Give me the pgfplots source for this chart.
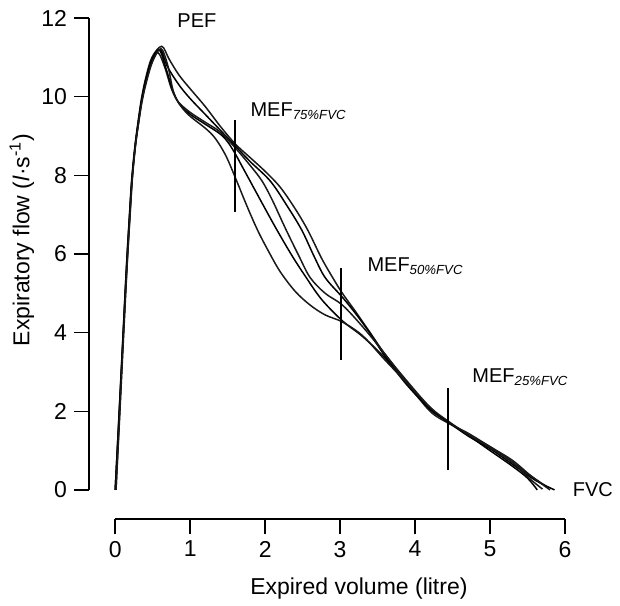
\documentclass[border=0pt]{standalone}
\usepackage{pgfplots}
\pgfplotsset{compat=1.18}
\usepackage{fontspec}
\setmainfont{Liberation Sans}

\newcommand\tickfont{\fontsize{11.5}{13}\selectfont}
\newcommand\labfont{\fontsize{10}{12}\selectfont}
\newcommand\subfont{\fontsize{6.6}{7}\selectfont\itshape}

\begin{document}
\begin{tikzpicture}
    \useasboundingbox (-44.5pt,-43pt) rectangle (265.5pt,259.5pt);
    \begin{axis}[
            scale only axis,
            width=238pt,
            height=250.5pt,
            xmin=-0.35, xmax=6,
            ymin=-0.74, ymax=12,
            axis lines=left,
            axis line style={draw=none},
            xtick={0,1,...,6},
            ytick={0,2,...,12},
            tick align=outside,
            major tick length=7.5pt,
            tick style={line width=0.75pt, black},
            tick label style={font=\tickfont},
            /pgf/number format/assume math mode=true,
            xlabel={Expired volume (litre)},
            ylabel={Expiratory flow (\textit{l}·s\textsuperscript{-1})},
            label style={font=\tickfont},
            xlabel style={at={(axis description cs:0.567,-0.138)}, anchor=center},
            ylabel style={at={(axis description cs:-0.141,0.557)}, anchor=center},
            clip=false,
            cycle list={{black!90, mark=none}},
            every axis plot post/.append style={mark=none, smooth, tension=0.55, line width=0.75pt},
        ]
        % axis lines only over the data range
        \draw[line width=0.75pt] (axis cs:-0.35,0) -- (axis cs:-0.35,12);
        \draw[line width=0.75pt] (axis cs:0,-0.74) -- (axis cs:6,-0.74);

        % curve A, upper bulge
        \addplot coordinates {(0,0) (0.05,1.9) (0.1,3.8) (0.15,5.7) (0.19,7.0) (0.22,7.9) (0.26,8.7)
            (0.3,9.3) (0.35,9.95) (0.41,10.5) (0.49,11.0) (0.62,11.28) (0.72,10.95) (0.85,10.55)
            (1.0,10.2) (1.2,9.75) (1.4,9.25) (1.6,8.8) (1.8,8.45) (2.0,8.1) (2.2,7.7) (2.4,7.15)
            (2.57,6.6) (2.75,5.9) (2.9,5.4) (3.03,5.0) (3.2,4.55) (3.4,4.0) (3.6,3.45) (3.9,2.75)
            (4.2,2.1) (4.44,1.72) (4.7,1.4) (5.0,1.1) (5.3,0.7) (5.55,0.35) (5.78,0.05)};
        % curve B
        \addplot coordinates {(0.01,0) (0.06,2.0) (0.11,4.0) (0.16,5.8) (0.2,7.1) (0.23,8.0) (0.27,8.8)
            (0.31,9.35) (0.36,9.95) (0.42,10.45) (0.5,10.95) (0.6,11.2) (0.7,10.75) (0.85,10.3)
            (1.0,9.95) (1.2,9.55) (1.4,9.15) (1.6,8.75) (1.8,8.35) (2.07,7.85) (2.3,7.2) (2.49,6.6)
            (2.65,5.95) (2.8,5.4) (3.03,4.9) (3.2,4.5) (3.4,3.98) (3.6,3.4) (3.9,2.7) (4.2,2.05)
            (4.44,1.74) (4.7,1.38) (5.0,1.05) (5.3,0.65) (5.6,0.25) (5.86,0)};
        % curve C
        \addplot coordinates {(0,0) (0.05,1.8) (0.1,3.7) (0.15,5.6) (0.19,6.9) (0.22,7.8) (0.26,8.6)
            (0.3,9.2) (0.35,9.85) (0.41,10.4) (0.48,10.85) (0.57,11.12) (0.66,10.75) (0.75,10.2)
            (0.84,9.87) (1.0,9.6) (1.2,9.35) (1.4,9.1) (1.6,8.7) (1.8,8.25) (1.96,7.85) (2.1,7.35)
            (2.27,6.65) (2.45,5.95) (2.6,5.4) (2.8,5.0) (3.03,4.7) (3.3,4.15) (3.6,3.45) (3.9,2.7)
            (4.2,2.0) (4.44,1.7) (4.7,1.45) (5.0,1.1) (5.3,0.75) (5.55,0.35) (5.8,0)};
        % curve D
        \addplot coordinates {(0,0) (0.05,1.85) (0.1,3.75) (0.15,5.65) (0.19,6.95) (0.22,7.85) (0.26,8.65)
            (0.3,9.25) (0.35,9.9) (0.41,10.45) (0.49,10.95) (0.59,11.18) (0.68,10.7) (0.77,10.15)
            (0.86,9.8) (1.0,9.55) (1.2,9.3) (1.4,9.05) (1.5,8.85) (1.6,8.55) (1.7,8.2) (1.8,7.85)
            (2.0,7.15) (2.16,6.6) (2.36,5.95) (2.53,5.45) (2.75,4.85) (3.03,4.3) (3.3,3.9)
            (3.6,3.35) (3.9,2.65) (4.2,2.05) (4.44,1.73) (4.7,1.4) (5.0,1.0) (5.3,0.6) (5.5,0.3) (5.63,0)};
        % curve E, lowest
        \addplot coordinates {(0.01,0) (0.06,1.9) (0.11,3.85) (0.16,5.75) (0.2,7.05) (0.23,7.95) (0.27,8.75)
            (0.31,9.3) (0.36,9.9) (0.42,10.4) (0.5,10.9) (0.61,11.22) (0.7,10.8) (0.78,10.1)
            (0.88,9.75) (1.0,9.5) (1.2,9.2) (1.33,8.95) (1.47,8.52) (1.6,7.95) (1.75,7.25)
            (1.9,6.6) (2.05,6.05) (2.2,5.55) (2.4,5.05) (2.6,4.7) (2.8,4.45) (3.03,4.27) (3.3,3.92)
            (3.6,3.3) (3.9,2.7) (4.2,2.1) (4.44,1.75) (4.7,1.42) (5.0,1.08) (5.3,0.7)
            (5.52,0.3) (5.7,0.02)};

        % MEF markers
        \addplot[sharp plot, line width=0.8pt, black] coordinates {(1.6,7.07) (1.6,9.41)};
        \addplot[sharp plot, line width=0.8pt, black] coordinates {(3.01,3.31) (3.01,5.65)};
        \addplot[sharp plot, line width=0.8pt, black] coordinates {(4.44,0.51) (4.44,2.6)};

        \node[font=\labfont] at (axis cs:1.09,11.93) {PEF};
        \node[font=\labfont, anchor=base west, inner sep=0pt] at (axis cs:1.8,9.49) {MEF\textsubscript{\subfont 75\%FVC}};
        \node[font=\labfont, anchor=base west, inner sep=0pt] at (axis cs:3.36,5.55) {MEF\textsubscript{\subfont 50\%FVC}};
        \node[font=\labfont, anchor=base west, inner sep=0pt] at (axis cs:4.76,2.72) {MEF\textsubscript{\subfont 25\%FVC}};
        \node[font=\labfont, anchor=base west, inner sep=0pt] at (axis cs:6.1,-0.18) {FVC};
    \end{axis}
\end{tikzpicture}
\end{document}
